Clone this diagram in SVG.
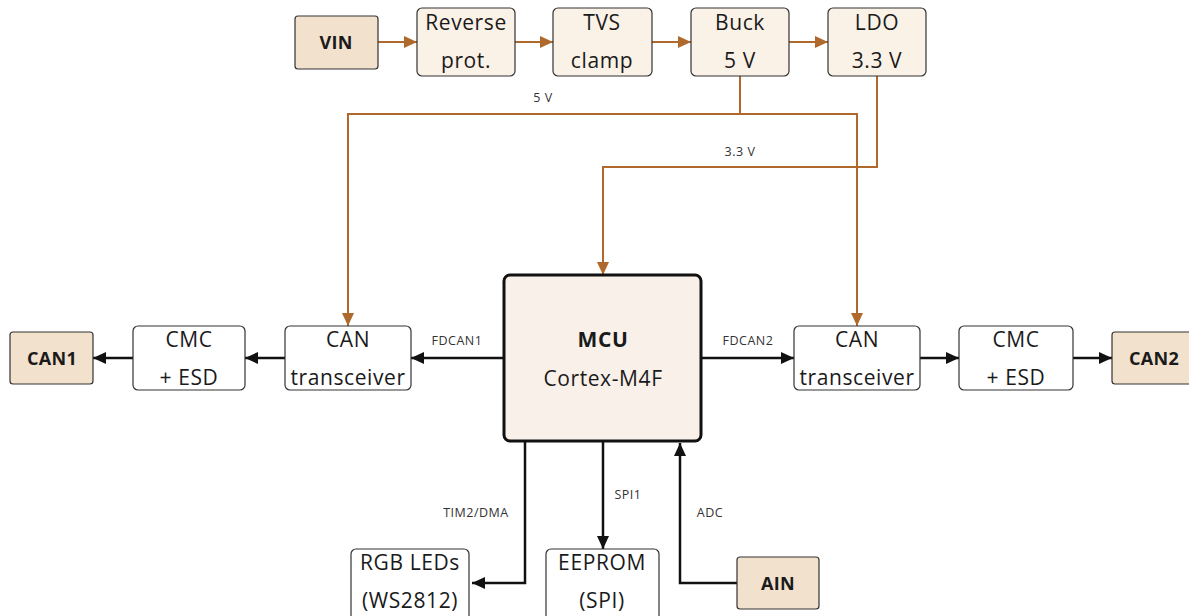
<svg xmlns="http://www.w3.org/2000/svg" width="1189" height="616" viewBox="0 0 1189 616">
<style>
text{font-family:"Open Sans","DejaVu Sans",sans-serif;fill:#1a1a1a;text-anchor:middle}
.t{font-size:21px;letter-spacing:0.6px}
.b{font-size:18px;font-weight:bold;letter-spacing:0.3px}
.s{font-size:12.5px;fill:#333;letter-spacing:0.5px}
.term{fill:#f2e1cd;stroke:#333;stroke-width:1.2}
.proc{fill:#faf1e7;stroke:#333;stroke-width:1.2}
.blk{fill:#fff;stroke:#333;stroke-width:1.2}
.mcu{fill:#f9f0ea;stroke:#111;stroke-width:3}
.pw{fill:none;stroke:#b0692c;stroke-width:2}
.sg{fill:none;stroke:#111;stroke-width:2.5}
</style>
<defs>
<marker id="ao" markerUnits="userSpaceOnUse" markerWidth="14" markerHeight="12" refX="13" refY="6" orient="auto"><path d="M0,0 L13,6 L0,12 Z" fill="#b0692c"/></marker>
<marker id="ab" markerUnits="userSpaceOnUse" markerWidth="14" markerHeight="12" refX="13" refY="6" orient="auto"><path d="M0,0 L13,6 L0,12 Z" fill="#111"/></marker>
</defs>
<g id="connectors">
<path class="pw" d="M378,42 H417" marker-end="url(#ao)"/>
<path class="pw" d="M515,42 H553" marker-end="url(#ao)"/>
<path class="pw" d="M652,42 H691" marker-end="url(#ao)"/>
<path class="pw" d="M789,42 H828" marker-end="url(#ao)"/>
<path class="pw" d="M740,76 V114 H348 V326" marker-end="url(#ao)"/>
<path class="pw" d="M740,114 H857 V326" marker-end="url(#ao)"/>
<path class="pw" d="M877,76 V167 H603 V275" marker-end="url(#ao)"/>
<text class="s" x="543" y="102">5 V</text>
<text class="s" x="740" y="156">3.3 V</text>
<path class="sg" d="M504,358 H411" marker-end="url(#ab)"/>
<path class="sg" d="M285,358 H245" marker-end="url(#ab)"/>
<path class="sg" d="M133,358 H93" marker-end="url(#ab)"/>
<path class="sg" d="M701,358 H794" marker-end="url(#ab)"/>
<path class="sg" d="M920,358 H959" marker-end="url(#ab)"/>
<path class="sg" d="M1073,358 H1112" marker-end="url(#ab)"/>
<text class="s" x="457" y="345">FDCAN1</text>
<text class="s" x="748" y="345">FDCAN2</text>
<path class="sg" d="M525,441 V583 H472" marker-end="url(#ab)"/>
<path class="sg" d="M603,441 V549" marker-end="url(#ab)"/>
<path class="sg" d="M737,583 H680 V443" marker-end="url(#ab)"/>
<text class="s" x="476" y="517">TIM2/DMA</text>
<text class="s" x="628" y="499">SPI1</text>
<text class="s" x="710" y="517">ADC</text>
</g>
<g id="vin"><rect class="term" x="295" y="16" width="83" height="53" rx="3"/><text class="b" x="336" y="49">VIN</text></g>
<g id="rev"><rect class="proc" x="417" y="8" width="98" height="68" rx="5"/><text class="t" x="466" y="30">Reverse</text><text class="t" x="466" y="68">prot.</text></g>
<g id="tvs"><rect class="proc" x="553" y="8" width="99" height="68" rx="5"/><text class="t" x="602" y="30">TVS</text><text class="t" x="602" y="68">clamp</text></g>
<g id="buck"><rect class="proc" x="691" y="8" width="98" height="68" rx="5"/><text class="t" x="740" y="30">Buck</text><text class="t" x="740" y="68">5 V</text></g>
<g id="ldo"><rect class="proc" x="828" y="8" width="98" height="68" rx="5"/><text class="t" x="877" y="30">LDO</text><text class="t" x="877" y="68">3.3 V</text></g>
<g id="mcu"><rect class="mcu" x="504" y="275" width="197" height="166" rx="6"/><text class="t" x="603" y="347" font-weight="bold">MCU</text><text class="t" x="603" y="386">Cortex-M4F</text></g>
<g id="can-tx1"><rect class="blk" x="285" y="326" width="126" height="64" rx="5"/><text class="t" x="348" y="347">CAN</text><text class="t" x="348" y="385">transceiver</text></g>
<g id="cmc1"><rect class="blk" x="133" y="326" width="112" height="64" rx="5"/><text class="t" x="189" y="347">CMC</text><text class="t" x="189" y="385">+ ESD</text></g>
<g id="can1"><rect class="term" x="10" y="332" width="83" height="52" rx="3"/><text class="b" x="52" y="365">CAN1</text></g>
<g id="can-tx2"><rect class="blk" x="794" y="326" width="126" height="64" rx="5"/><text class="t" x="857" y="347">CAN</text><text class="t" x="857" y="385">transceiver</text></g>
<g id="cmc2"><rect class="blk" x="959" y="326" width="114" height="64" rx="5"/><text class="t" x="1016" y="347">CMC</text><text class="t" x="1016" y="385">+ ESD</text></g>
<g id="can2"><rect class="term" x="1112" y="332" width="83" height="52" rx="3"/><text class="b" x="1154" y="365">CAN2</text></g>
<g id="rgb"><rect class="blk" x="351" y="549" width="118" height="72" rx="5"/><text class="t" x="410" y="570">RGB LEDs</text><text class="t" x="410" y="608">(WS2812)</text></g>
<g id="eeprom"><rect class="blk" x="546" y="549" width="113" height="72" rx="5"/><text class="t" x="602" y="570">EEPROM</text><text class="t" x="602" y="608">(SPI)</text></g>
<g id="ain"><rect class="term" x="737" y="557" width="82" height="52" rx="3"/><text class="b" x="778" y="590">AIN</text></g>
</svg>
